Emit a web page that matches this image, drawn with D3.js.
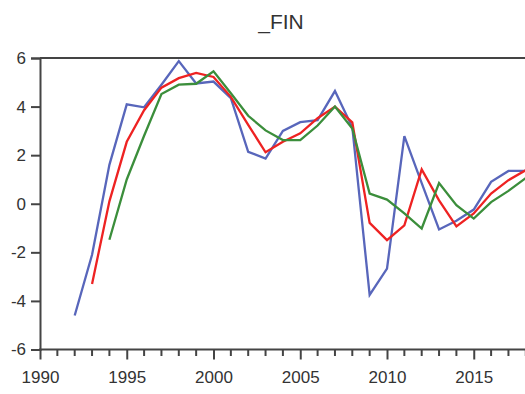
<!DOCTYPE html>
<html>
<head>
<meta charset="utf-8">
<script src="https://cdn.jsdelivr.net/npm/d3@7"></script>
<style>
  html, body { margin: 0; padding: 0; background: #fff; }
  svg { display: block; font-family: "Liberation Sans", Arial, sans-serif; }
</style>
</head>
<body>
<svg id="chart" width="525" height="394"></svg>
<script>
// Series: actual (blue) and two smoothed/forecast paths (red, green)
const title = "_FIN";
const yearsBlue  = d3.range(1992, 2019);
const yearsRed   = d3.range(1993, 2019);
const yearsGreen = d3.range(1994, 2019);

const blueValues = [-4.6, -2.1, 1.6, 4.09, 3.97, 4.9, 5.87, 4.95, 5.03, 4.35, 2.14, 1.86, 3.0, 3.36, 3.44,
  4.64, 3.15, -3.75, -2.67, 2.78, 0.85, -1.06, -0.7, -0.24, 0.9, 1.35, 1.35];
const redValues = [-3.3, 0.1, 2.55, 3.85, 4.78, 5.17, 5.39, 5.22, 4.4, 3.25, 2.12, 2.55, 2.9, 3.52, 4.0,
  3.35, -0.79, -1.5, -0.89, 1.41, 0.14, -0.93, -0.4, 0.42, 0.97, 1.38];
const greenValues = [-1.48, 1.0, 2.8, 4.52, 4.9, 4.94, 5.45, 4.55, 3.62, 3.02, 2.62, 2.62, 3.22, 4.0,
  3.1, 0.42, 0.17, -0.4, -1.02, 0.85, -0.06, -0.61, 0.07, 0.53, 1.06];

const yTicks = [-6, -4, -2, 0, 2, 4, 6];
const xMajorTicks = [1990, 1995, 2000, 2005, 2010, 2015];

const svg = d3.select("#chart");
const W = 525;
const plotLeft = 40, plotTop = 58, plotBottom = 349.5;
const yearPx = 17.35;

const x = d3.scaleLinear().domain([1990, 2020]).range([plotLeft, plotLeft + 30 * yearPx]);
const y = d3.scaleLinear().domain([-6, 6]).range([plotBottom, plotTop]);

const axisColor = "#444";
const textColor = "#333";

// Title
svg.append("text")
  .attr("x", 281).attr("y", 29)
  .attr("text-anchor", "middle")
  .attr("font-size", 21)
  .attr("fill", textColor)
  .text(title);

// Plot frame (top edge)
svg.append("line")
  .attr("x1", plotLeft).attr("x2", W + 5)
  .attr("y1", plotTop).attr("y2", plotTop)
  .attr("stroke", axisColor).attr("stroke-width", 2);

// Series lines
const series = [
  { years: yearsBlue, values: blueValues, color: "#5866bb" },
  { years: yearsRed, values: redValues, color: "#ee2222" },
  { years: yearsGreen, values: greenValues, color: "#3b8e3b" }
];
const line = d3.line().x(d => x(d[0])).y(d => y(d[1]));
series.forEach(s => {
  svg.append("path")
    .datum(s.years.map((yr, i) => [yr, s.values[i]]))
    .attr("fill", "none")
    .attr("stroke", s.color)
    .attr("stroke-width", 2.3)
    .attr("stroke-linejoin", "miter")
    .attr("d", line);
});

// Y axis
const yAxis = d3.axisLeft(y).tickValues(yTicks).tickSize(9).tickPadding(5)
  .tickFormat(d3.format("d"));
const gy = svg.append("g").attr("transform", `translate(${plotLeft},0)`).call(yAxis);
gy.select(".domain").attr("stroke", axisColor).attr("stroke-width", 2);
gy.selectAll(".tick line").attr("stroke", axisColor).attr("stroke-width", 2);
gy.selectAll(".tick text")
  .attr("font-size", 17).attr("fill", textColor)
  .attr("font-family", "Liberation Sans, Arial, sans-serif")
  .text(d => d < 0 ? "-" + Math.abs(d) : d);

// X axis: minor ticks every year, longer ticks with labels every five years
const gx = svg.append("g").attr("transform", `translate(0,${plotBottom})`);
gx.append("line")
  .attr("x1", plotLeft - 1).attr("x2", W + 5)
  .attr("y1", 0).attr("y2", 0)
  .attr("stroke", axisColor).attr("stroke-width", 2);
const minorYears = d3.range(1990, 2021).filter(yr => yr % 5 !== 0);
gx.selectAll("line.minor").data(minorYears).enter().append("line")
  .attr("class", "minor")
  .attr("x1", d => x(d)).attr("x2", d => x(d))
  .attr("y1", 0).attr("y2", 6.5)
  .attr("stroke", axisColor).attr("stroke-width", 2);
const xAxis = d3.axisBottom(x).tickValues(xMajorTicks).tickSize(10).tickPadding(11)
  .tickFormat(d3.format("d"));
const gxMajor = gx.append("g").call(xAxis);
gxMajor.select(".domain").remove();
gxMajor.selectAll(".tick line").attr("stroke", axisColor).attr("stroke-width", 2);
gxMajor.selectAll(".tick text")
  .attr("font-size", 17).attr("fill", textColor)
  .attr("font-family", "Liberation Sans, Arial, sans-serif");
</script>
</body>
</html>
